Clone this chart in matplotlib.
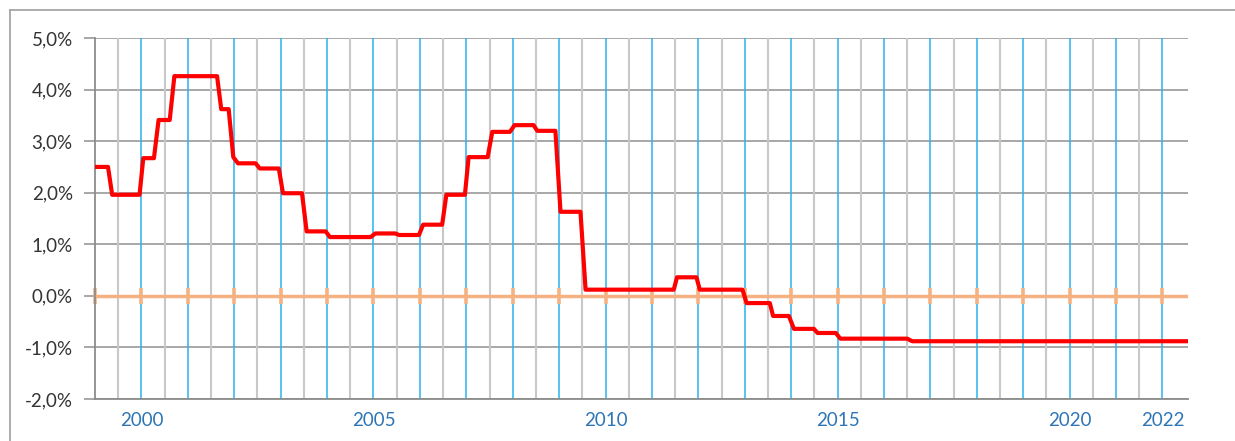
import matplotlib.pyplot as plt
import numpy as np
from matplotlib.ticker import FuncFormatter, FixedLocator
from matplotlib.lines import Line2D

plt.rcParams['font.family'] = ['Lato', 'DejaVu Sans']

# data: rate (%) at breakpoints of the step curve
dates = [1999.00, 1999.28, 1999.37, 1999.96, 2000.04, 2000.27, 2000.37, 2000.61,
         2000.71, 2001.63, 2001.72, 2001.88, 2001.98, 2002.08, 2002.46, 2002.55,
         2002.96, 2003.05, 2003.46, 2003.56, 2003.97, 2004.06, 2004.94, 2005.04,
         2005.47, 2005.55, 2005.98, 2006.07, 2006.48, 2006.57, 2006.97, 2007.05,
         2007.46, 2007.56, 2007.94, 2008.04, 2008.45, 2008.53, 2008.92, 2009.03,
         2009.46, 2009.57, 2011.47, 2011.54, 2011.96, 2012.03, 2012.95, 2013.04,
         2013.54, 2013.61, 2013.95, 2014.06, 2014.49, 2014.57, 2014.96, 2015.06,
         2016.50, 2016.61, 2022.57]
rates = [2.50, 2.50, 1.96, 1.96, 2.67, 2.67, 3.41, 3.41,
         4.26, 4.26, 3.62, 3.62, 2.69, 2.57, 2.57, 2.47,
         2.47, 1.99, 1.99, 1.25, 1.25, 1.14, 1.14, 1.21,
         1.21, 1.18, 1.18, 1.38, 1.38, 1.96, 1.96, 2.69,
         2.69, 3.18, 3.18, 3.31, 3.31, 3.20, 3.20, 1.63,
         1.63, 0.12, 0.12, 0.36, 0.36, 0.12, 0.12, -0.14,
         -0.14, -0.39, -0.39, -0.64, -0.64, -0.72, -0.72, -0.83,
         -0.83, -0.88, -0.88]

year_ticks = [2000, 2005, 2010, 2015, 2020, 2022]
years = np.arange(1999, 2023)

fig = plt.figure(figsize=(12.35, 4.41), dpi=100)
ax = fig.add_axes([95/1235, 1 - 399/441, (1188 - 95)/1235, (399 - 38)/441])

# vertical grid: grey at half years, blue at full years
for y in years[:-1] + 0.5:
    ax.axvline(y, color='#c8c8c8', lw=1.5, zorder=1)
for y in years[1:]:
    ax.axvline(y, color='#27b2ee', lw=1.1, zorder=1.2)

ax.set_ylim(-2, 5)
ax.set_xlim(1999, 2022.55)
ax.yaxis.set_major_locator(FixedLocator(np.arange(-2, 5.5, 1)))
ax.yaxis.grid(True, color='#a0a0a0', lw=1.3, zorder=1.1)
ax.set_axisbelow(True)

# zero line with year ticks
ax.axhline(0, color='#f6b183', lw=2.5, zorder=2)
ax.plot(years, np.zeros(len(years)), ls='none', marker='|', ms=11,
        mew=2.6, color='#f6b183', zorder=2, clip_on=False)

ax.plot(dates, rates, color='#ff0000', lw=3, zorder=3,
        solid_joinstyle='round', solid_capstyle='butt')

ax.yaxis.set_major_formatter(FuncFormatter(lambda v, p: f'{v:.1f}%'.replace('.', ',')))
ax.set_xticks(year_ticks)
ax.set_xticklabels([str(y) for y in year_ticks])

for s in ['top', 'right']:
    ax.spines[s].set_visible(False)
for s in ['left', 'bottom']:
    ax.spines[s].set_color('#8c8c8c')
    ax.spines[s].set_linewidth(1.3)

ax.tick_params(axis='y', length=8, width=1.3, color='#a0a0a0', pad=8,
               labelsize=13.5, labelcolor='#333333')
ax.tick_params(axis='x', length=0, pad=9, labelsize=13.5, labelcolor='#2e75b6')

# outer chart border (partly cut off)
fig.add_artist(Line2D([10/1235, 1.0], [1 - 10/441, 1 - 10/441],
                      transform=fig.transFigure, color='#a6a6a6', lw=1.3))
fig.add_artist(Line2D([10/1235, 10/1235], [0.0, 1 - 10/441],
                      transform=fig.transFigure, color='#a6a6a6', lw=1.3))

fig.savefig('out.png', dpi=100)
